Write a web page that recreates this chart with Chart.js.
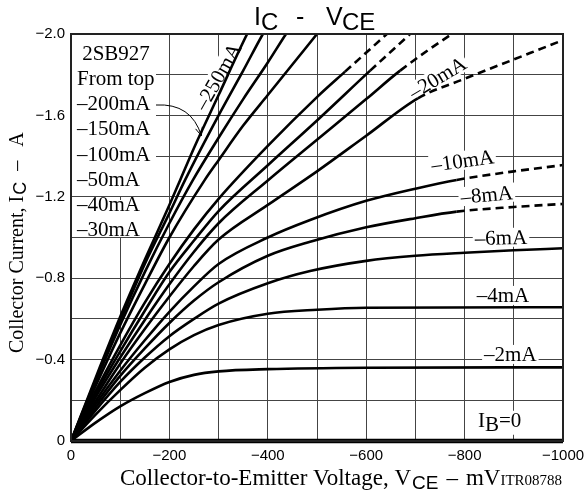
<!DOCTYPE html>
<html lang="en">
<head>
<meta charset="UTF-8">
<title>2SB927 IC - VCE</title>
<script src="https://cdn.jsdelivr.net/npm/chart.js"></script>
<style>
    html, body { margin: 0; padding: 0; background: #fff; }
    #wrap { width: 586px; height: 495px; position: relative; }
</style>
</head>
<body>
<div id="wrap"><canvas id="icChart"></canvas></div>
<script>
// collector current curves, [VCE mV, IC A], one list per base current
const ib250 = [[0,0],[-50,-0.31],[-100,-0.61],[-150,-0.89],[-200,-1.16],[-222,-1.283],[-250,-1.44],[-300,-1.70],[-358,-2.0],[-380,-2.1]];
const ib200 = [[0,0],[-50,-0.30],[-100,-0.59],[-150,-0.87],[-200,-1.12],[-232,-1.283],[-300,-1.60],[-350,-1.82],[-390,-2.0],[-410,-2.08]];
const ib150 = [[0,0],[-50,-0.29],[-100,-0.57],[-150,-0.83],[-200,-1.07],[-248,-1.283],[-300,-1.49],[-350,-1.68],[-400,-1.86],[-437,-2.0],[-460,-2.08]];
const ib100 = [[0,0],[-50,-0.27],[-100,-0.53],[-150,-0.77],[-200,-1.0],[-272,-1.283],[-300,-1.38],[-350,-1.55],[-400,-1.70],[-450,-1.85],[-500,-2.0],[-520,-2.06]];
const ib50 = [[0,0],[-50,-0.245],[-100,-0.47],[-150,-0.68],[-200,-0.87],[-250,-1.04],[-300,-1.19],[-400,-1.45],[-500,-1.69],[-557,-1.815],[-642,-2.0],[-660,-2.04]];
const ib40 = [[0,0],[-50,-0.23],[-100,-0.44],[-150,-0.64],[-200,-0.83],[-250,-0.985],[-300,-1.13],[-400,-1.355],[-500,-1.575],[-608,-1.82],[-689,-2.0],[-710,-2.05]];
const ib30 = [[0,0],[-50,-0.215],[-100,-0.41],[-150,-0.595],[-200,-0.77],[-250,-0.93],[-300,-1.07],[-400,-1.28],[-500,-1.48],[-600,-1.68],[-669,-1.82],[-774,-2.0],[-800,-2.04]];
const ib20 = [[0,0],[-50,-0.195],[-100,-0.38],[-150,-0.55],[-200,-0.71],[-250,-0.86],[-300,-0.99],[-400,-1.16],[-500,-1.325],[-600,-1.50],[-705,-1.684],[-800,-1.78],[-900,-1.875],[-1000,-1.97]];
const ib10 = [[0,0],[-50,-0.18],[-100,-0.345],[-150,-0.495],[-200,-0.635],[-250,-0.76],[-300,-0.87],[-400,-1.0],[-486,-1.086],[-600,-1.18],[-700,-1.24],[-784,-1.283],[-900,-1.325],[-1000,-1.356]];
const ib8 = [[0,0],[-50,-0.165],[-100,-0.32],[-150,-0.455],[-200,-0.58],[-250,-0.69],[-300,-0.78],[-400,-0.91],[-486,-0.979],[-600,-1.05],[-700,-1.095],[-784,-1.127],[-900,-1.15],[-1000,-1.165]];
const ib6 = [[0,0],[-50,-0.15],[-100,-0.29],[-150,-0.41],[-200,-0.515],[-250,-0.6],[-300,-0.675],[-400,-0.775],[-486,-0.835],[-600,-0.885],[-700,-0.91],[-800,-0.925],[-900,-0.937],[-1000,-0.947]];
const ib4 = [[0,0],[-50,-0.13],[-100,-0.25],[-150,-0.36],[-200,-0.45],[-250,-0.52],[-300,-0.57],[-400,-0.625],[-500,-0.645],[-600,-0.655],[-1000,-0.657]];
const ib2 = [[0,0],[-50,-0.09],[-100,-0.17],[-150,-0.235],[-200,-0.29],[-250,-0.325],[-300,-0.342],[-400,-0.353],[-600,-0.36],[-1000,-0.362]];
const ib0 = [[0,0],[-1000,0]];

const baseCurrents = ['-250mA','-200mA','-150mA','-100mA','-50mA','-40mA','-30mA','-20mA','-10mA','-8mA','-6mA','-4mA','-2mA','0mA'];
const curveData = [ib250, ib200, ib150, ib100, ib50, ib40, ib30, ib20, ib10, ib8, ib6, ib4, ib2, ib0];
// curves turn dashed past these VCE values
const dashStart = [null, null, null, null, -557, -608, -669, -705, -784, -784, null, null, null, null];

const xTicks = [0, -200, -400, -600, -800, -1000];
const yTicks = [0, -0.4, -0.8, -1.2, -1.6, -2.0];

const SERIF = '"Liberation Serif", "Times New Roman", serif';
const SANS = '"Liberation Sans", Arial, sans-serif';
const fmt = v => v === 0 ? '0' : '\u2212' + Math.abs(v);

function textBox(ctx, text, cx, cy, angle) {
    ctx.save();
    ctx.translate(cx, cy);
    ctx.rotate(angle * Math.PI / 180);
    ctx.font = '21px ' + SERIF;
    const w = ctx.measureText(text).width;
    ctx.fillStyle = '#fff';
    ctx.fillRect(-w / 2 - 2, -10, w + 4, 19);
    ctx.fillStyle = '#000';
    ctx.textAlign = 'center';
    ctx.textBaseline = 'middle';
    ctx.fillText(text, 0, 1);
    ctx.restore();
}

const decor = {
    id: 'decor',
    beforeDatasetsDraw(chart) {
        const { ctx, chartArea: a, scales: { x, y } } = chart;
        ctx.save();
        // parameter list in the upper left corner
        ctx.fillStyle = '#fff';
        ctx.fillRect(a.left + 1, a.top + 1, 84, 161);
        ctx.fillRect(a.left + 1, a.top + 166, 74, 37);
        ctx.fillStyle = '#000';
        ctx.font = '21px ' + SERIF;
        ctx.textAlign = 'center';
        ctx.fillText('2SB927', a.left + 45, a.top + 26);
        ctx.textAlign = 'left';
        const block = ['From top', '\u2013200mA', '\u2013150mA', '\u2013100mA', '\u201350mA', '\u201340mA', '\u201330mA'];
        block.forEach((t, i) => ctx.fillText(t, a.left + 6, a.top + 51 + i * 25.2));

        // arrow from the -200mA entry to its curve
        const x0 = a.left + 85, y0 = a.top + 71;
        const tx = x.getPixelForValue(-265), ty = y.getPixelForValue(-1.5);
        const cx = tx - 10, cy = y0 - 2;
        ctx.strokeStyle = '#000';
        ctx.lineWidth = 1;
        ctx.beginPath();
        ctx.moveTo(x0, y0);
        ctx.quadraticCurveTo(cx, cy, tx, ty);
        ctx.stroke();
        const ang = Math.atan2(ty - cy, tx - cx);
        ctx.beginPath();
        ctx.moveTo(tx - 9 * Math.cos(ang - 0.4), ty - 9 * Math.sin(ang - 0.4));
        ctx.lineTo(tx, ty);
        ctx.lineTo(tx - 9 * Math.cos(ang + 0.4), ty - 9 * Math.sin(ang + 0.4));
        ctx.stroke();

        // curve labels
        textBox(ctx, '\u2013250mA', x.getPixelForValue(-299), y.getPixelForValue(-1.79), -60);
        textBox(ctx, '\u201320mA', x.getPixelForValue(-745), y.getPixelForValue(-1.784), -31);
        textBox(ctx, '\u201310mA', x.getPixelForValue(-796), y.getPixelForValue(-1.376), -8);
        textBox(ctx, '\u20138mA', x.getPixelForValue(-845), y.getPixelForValue(-1.209), -5);
        textBox(ctx, '\u20136mA', x.getPixelForValue(-874), y.getPixelForValue(-0.998), -1);
        textBox(ctx, '\u20134mA', x.getPixelForValue(-878), y.getPixelForValue(-0.713), 0);
        textBox(ctx, '\u20132mA', x.getPixelForValue(-893), y.getPixelForValue(-0.423), 0);

        // IB=0
        const bx = x.getPixelForValue(-827), by = y.getPixelForValue(-0.07);
        ctx.fillStyle = '#fff';
        ctx.fillRect(bx - 3, by - 16, 54, 24);
        ctx.fillStyle = '#000';
        ctx.textAlign = 'left';
        ctx.font = '21px ' + SERIF;
        ctx.fillText('I', bx, by);
        let px = bx + ctx.measureText('I').width;
        ctx.fillText('B', px, by + 4);
        px += ctx.measureText('B').width;
        ctx.fillText('=0', px, by);
        ctx.restore();
    },
    afterDatasetsDraw(chart) {
        const { ctx, chartArea: a } = chart;
        ctx.save();
        ctx.strokeStyle = '#222';
        ctx.lineWidth = 2;
        ctx.strokeRect(a.left, a.top, a.right - a.left, a.bottom - a.top);
        ctx.restore();
    },
    afterDraw(chart) {
        const { ctx } = chart;
        ctx.save();
        ctx.fillStyle = '#000';
        ctx.textAlign = 'left';
        ctx.textBaseline = 'alphabetic';

        // chart title  IC - VCE
        ctx.font = '25px ' + SANS;
        ctx.fillText('I', 254, 25);
        ctx.fillText('-', 296, 25);
        ctx.fillText('V', 326, 25);
        ctx.font = '24px ' + SANS;
        ctx.fillText('C', 261, 30);
        ctx.fillText('CE', 342, 30);

        // x axis title
        let px = 120;
        const by = 485;
        ctx.font = '23px ' + SERIF;
        const xMain = 'Collector-to-Emitter Voltage, V';
        ctx.fillText(xMain, px, by);
        px += ctx.measureText(xMain).width;
        ctx.font = '19px ' + SANS;
        ctx.fillText('CE', px + 1, by + 4);
        px += ctx.measureText('CE').width + 9;
        ctx.font = '23px ' + SERIF;
        ctx.fillText('\u2013', px, by);
        px += ctx.measureText('\u2013').width + 8;
        ctx.fillText('mV', px, by);
        px += ctx.measureText('mV').width;
        ctx.font = '15px ' + SERIF;
        ctx.fillText('ITR08788', px, by);

        // y axis title, rotated
        ctx.translate(23, 353);
        ctx.rotate(-Math.PI / 2);
        ctx.font = '20px ' + SERIF;
        const yMain = 'Collector Current, I';
        ctx.fillText(yMain, 0, 0);
        let qx = ctx.measureText(yMain).width;
        ctx.font = '18px ' + SANS;
        ctx.fillText('C', qx + 1, 3);
        qx += ctx.measureText('C').width + 12;
        ctx.font = '20px ' + SERIF;
        ctx.fillText('\u2013', qx, 0);
        qx += ctx.measureText('\u2013').width + 14;
        ctx.fillText('A', qx, 0);
        ctx.restore();
    }
};

const datasets = curveData.map((pts, i) => {
    const ds = {
        label: 'IB ' + baseCurrents[i],
        data: pts.map(p => ({ x: p[0], y: p[1] })),
        borderColor: '#000',
        borderWidth: i === curveData.length - 1 ? 4.5 : 2.6,
        pointRadius: 0,
        cubicInterpolationMode: 'monotone',
        clip: i === curveData.length - 1 ? 5 : 0
    };
    if (dashStart[i] !== null) {
        ds.segment = {
            borderDash: ctx => ctx.p0.parsed.x <= dashStart[i] ? [8, 5] : undefined
        };
    }
    return ds;
});

new Chart(document.getElementById('icChart'), {
    type: 'line',
    data: { datasets },
    plugins: [decor],
    options: {
        responsive: true,
        maintainAspectRatio: false,
        devicePixelRatio: 1,
        animation: false,
        layout: { padding: { top: 34, right: 23, left: 0, bottom: 0 } },
        plugins: { legend: { display: false }, tooltip: { enabled: false } },
        scales: {
            x: {
                type: 'linear',
                min: -1000,
                max: 0,
                reverse: true,
                afterFit: s => { s.height = 54; s.paddingLeft = 0; s.paddingRight = 0; },
                border: { display: false },
                grid: { color: '#444', lineWidth: 1, drawTicks: false },
                ticks: {
                    stepSize: 100,
                    autoSkip: false,
                    maxRotation: 0,
                    padding: 6,
                    color: '#000',
                    font: { family: SANS, size: 15 },
                    callback: v => xTicks.includes(v) ? fmt(v) : ''
                }
            },
            y: {
                type: 'linear',
                min: -2,
                max: 0,
                reverse: true,
                afterFit: s => { s.width = 71; s.paddingTop = 0; s.paddingBottom = 0; },
                border: { display: false },
                grid: { color: '#444', lineWidth: 1, drawTicks: false },
                ticks: {
                    stepSize: 0.2,
                    autoSkip: false,
                    padding: 6,
                    color: '#000',
                    font: { family: SANS, size: 15 },
                    callback: v => {
                        const r = Math.round(v * 10) / 10;
                        const hit = yTicks.find(t => Math.abs(t - r) < 1e-6);
                        if (hit === undefined) return '';
                        return r === 0 ? '0' : '\u2212' + Math.abs(r).toFixed(1);
                    }
                }
            }
        }
    }
});
</script>
</body>
</html>
